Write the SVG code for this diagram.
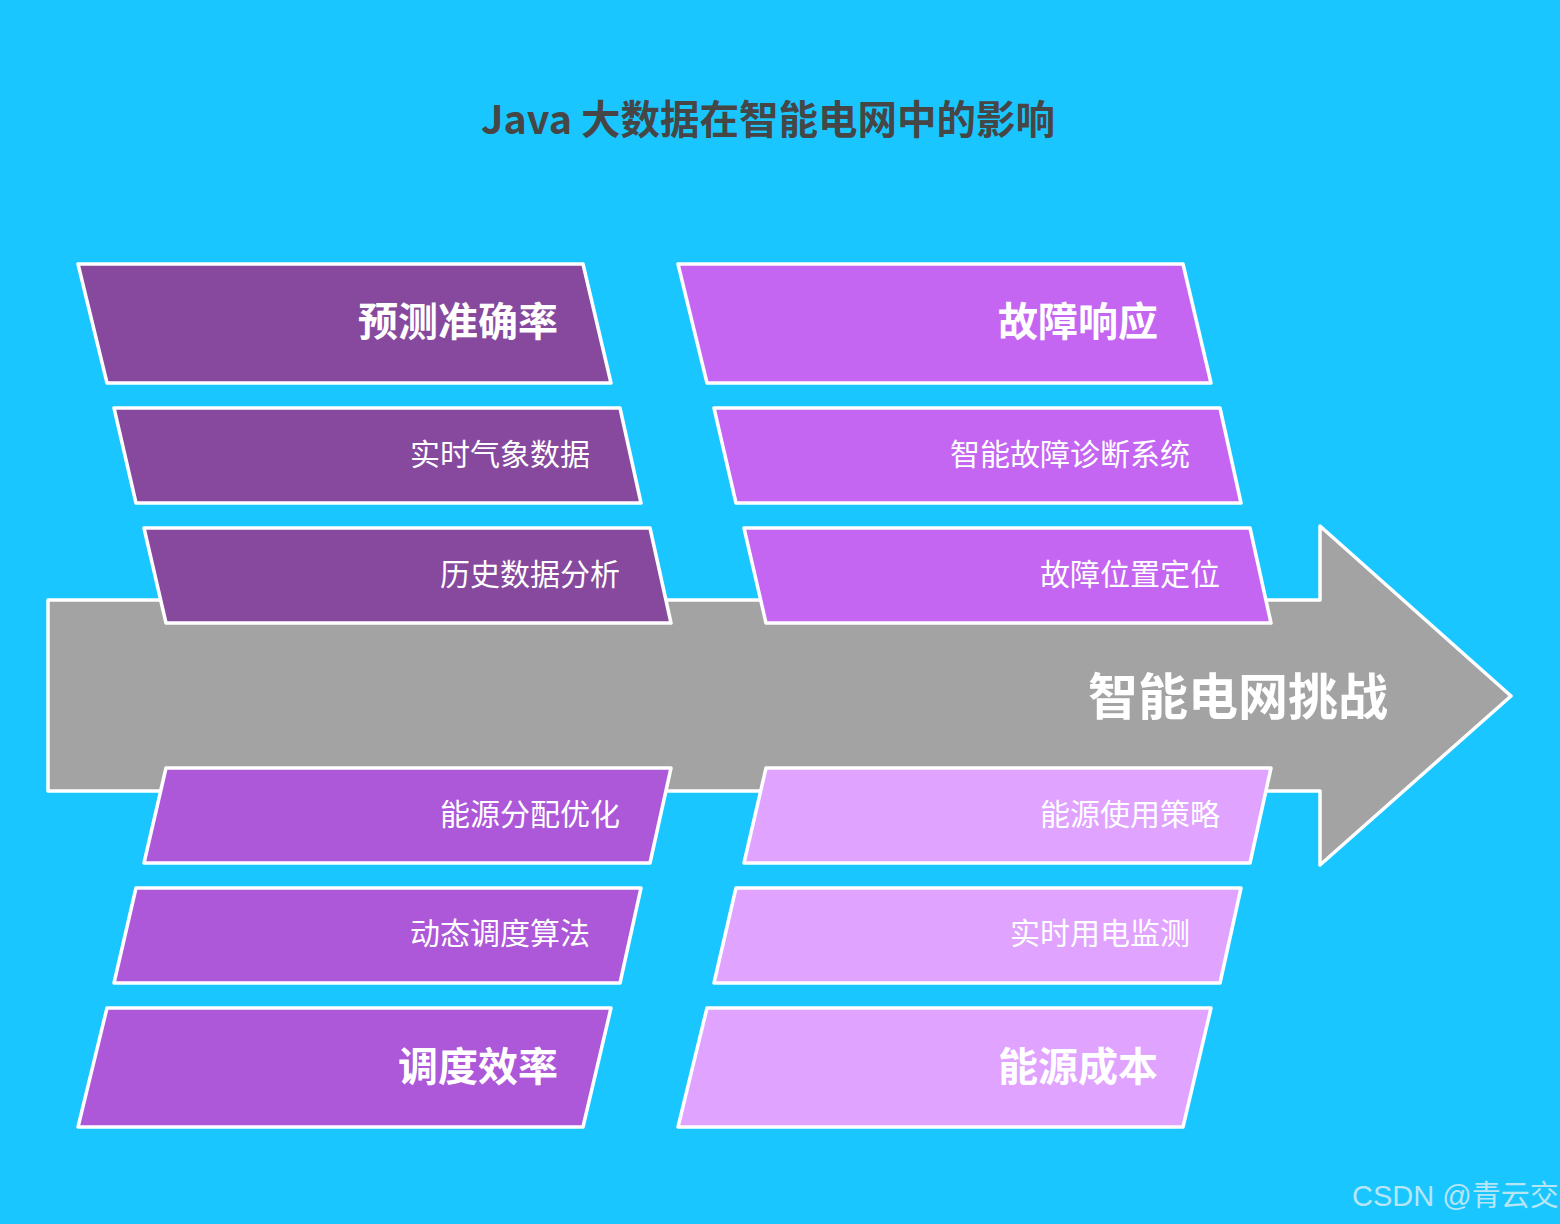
<svg xmlns="http://www.w3.org/2000/svg" width="1560" height="1224" viewBox="0 0 1560 1224">
<style>
.bg{fill:#1AC6FF}
.shape{stroke:#FFFFFF;stroke-width:3.5;stroke-linejoin:round}
.c1{fill:#86499E}
.c2{fill:#C466F2}
.c3{fill:#AD57D9}
.c4{fill:#E0A3FF}
.arrow{fill:#A3A3A3}
text{font-family:"Noto Sans CJK SC","Noto Sans",sans-serif;fill:#FFFFFF;dominant-baseline:central}
.big{font-size:40px;font-weight:700;text-anchor:end}
.small{font-size:30px;font-weight:400;text-anchor:end}
.title{font-size:39.5px;font-weight:700;fill:#464646;text-anchor:middle}
.center{font-size:50px;font-weight:700;text-anchor:end}
.wm{font-family:"Liberation Sans","Noto Sans CJK SC",sans-serif;font-size:29px;fill:#D2ECF5;opacity:0.85}
</style>
<rect class="bg" x="0" y="0" width="1560" height="1224"/>
<text class="title" x="768" y="116">Java 大数据在智能电网中的影响</text>
<g id="connectors">
<g id="spine">
<polygon class="shape arrow" points="48,600 1320,600 1320,526 1511,696 1320,865 1320,791 48,791"/>
<text class="center" x="1388" y="693">智能电网挑战</text>
</g>
</g>
<g id="n1"><polygon class="shape c1" points="78,264 583,264 611,383 107,383"/><text class="big" x="558" y="319">预测准确率</text></g>
<g id="n2"><polygon class="shape c1" points="114,408 620,408 641,503 136,503"/><text class="small" x="590" y="452">实时气象数据</text></g>
<g id="n3"><polygon class="shape c1" points="144,528 650,528 671,623 166,623"/><text class="small" x="620" y="572">历史数据分析</text></g>
<g id="n4"><polygon class="shape c2" points="678,264 1183,264 1211,383 707,383"/><text class="big" x="1158" y="319">故障响应</text></g>
<g id="n5"><polygon class="shape c2" points="714,408 1220,408 1241,503 736,503"/><text class="small" x="1190" y="452">智能故障诊断系统</text></g>
<g id="n6"><polygon class="shape c2" points="744,528 1250,528 1271,623 766,623"/><text class="small" x="1220" y="572">故障位置定位</text></g>
<g id="n7"><polygon class="shape c3" points="166,768 671,768 650,863 144,863"/><text class="small" x="620" y="812">能源分配优化</text></g>
<g id="n8"><polygon class="shape c3" points="136,888 641,888 620,983 114,983"/><text class="small" x="590" y="931">动态调度算法</text></g>
<g id="n9"><polygon class="shape c3" points="107,1008 611,1008 583,1127 78,1127"/><text class="big" x="558" y="1064">调度效率</text></g>
<g id="n10"><polygon class="shape c4" points="766,768 1271,768 1250,863 744,863"/><text class="small" x="1220" y="812">能源使用策略</text></g>
<g id="n11"><polygon class="shape c4" points="736,888 1241,888 1220,983 714,983"/><text class="small" x="1190" y="931">实时用电监测</text></g>
<g id="n12"><polygon class="shape c4" points="707,1008 1211,1008 1183,1127 678,1127"/><text class="big" x="1158" y="1064">能源成本</text></g>
<text class="wm" x="1352" y="1196">CSDN @青云交</text>
</svg>
